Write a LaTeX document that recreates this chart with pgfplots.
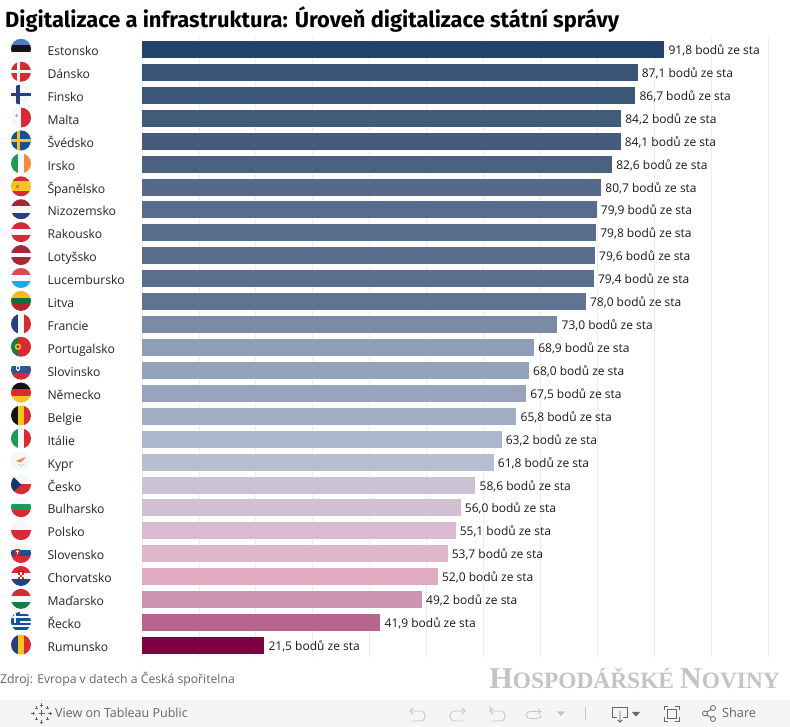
\documentclass[border=0pt]{standalone}
\usepackage{pgfplots}
\pgfplotsset{compat=1.18}
\usepackage{fontspec}
\setmainfont{Open Sans}
\newfontfamily\serif{Liberation Serif}
\newfontfamily\titlefont{Fira Sans}
\definecolor{c0}{HTML}{234268}
\definecolor{c1}{HTML}{3A5577}
\definecolor{c2}{HTML}{3B5677}
\definecolor{c3}{HTML}{435B7B}
\definecolor{c4}{HTML}{445B7B}
\definecolor{c5}{HTML}{4B6180}
\definecolor{c6}{HTML}{556A8A}
\definecolor{c7}{HTML}{586C8C}
\definecolor{c8}{HTML}{586D8C}
\definecolor{c9}{HTML}{596D8D}
\definecolor{c10}{HTML}{5A6E8E}
\definecolor{c11}{HTML}{607392}
\definecolor{c12}{HTML}{7B8BA7}
\definecolor{c13}{HTML}{8F9EB7}
\definecolor{c14}{HTML}{94A2BA}
\definecolor{c15}{HTML}{97A4BC}
\definecolor{c16}{HTML}{A0ADC3}
\definecolor{c17}{HTML}{AEB8CD}
\definecolor{c18}{HTML}{B6BFD2}
\definecolor{c19}{HTML}{C9C3D5}
\definecolor{c20}{HTML}{D3BFD2}
\definecolor{c21}{HTML}{D8BBD0}
\definecolor{c22}{HTML}{DDB7CB}
\definecolor{c23}{HTML}{E0ACC2}
\definecolor{c24}{HTML}{CF94B1}
\definecolor{c25}{HTML}{B6668C}
\definecolor{c26}{HTML}{7F0040}
\definecolor{fw}{HTML}{F5F7FA}
\definecolor{fr}{HTML}{D62B35}
\definecolor{fd}{HTML}{A5283A}
\definecolor{fb}{HTML}{26407F}
\definecolor{fn}{HTML}{14519B}
\definecolor{fe}{HTML}{4A80C0}
\definecolor{fy}{HTML}{F6C51B}
\definecolor{fg}{HTML}{1E9A57}
\definecolor{fo}{HTML}{F58A3C}
\definecolor{fc}{HTML}{1FA9E0}
\definecolor{fk}{HTML}{141414}
\definecolor{tb}{HTML}{F5F5F5}
\definecolor{tg}{HTML}{666666}
\definecolor{tl}{HTML}{C4C4C4}
\newcommand{\rowbar}[2]{\addplot[fill=c#1,draw=none] coordinates {(#2,#1)};}
\newcommand{\hs}[3]{\fill[#3] (-11,#1) rectangle (11,#2);}
\newcommand{\vs}[3]{\fill[#3] (#1,-11) rectangle (#2,11);}
\newcommand{\flag}[2]{\begin{scope}[x=1pt,y=-1pt,shift={(21pt,{(678.2-22.92*#1)*1pt})}]
\clip (0,0) circle (10);\fill[fw] (-11,-11) rectangle (11,11);#2\end{scope}}
\newcommand{\plusm}[3]{\draw (#1-#3,#2) -- (#1+#3,#2) (#1,#2-#3) -- (#1,#2+#3);}
\begin{document}
\begin{tikzpicture}[x=1pt,y=1pt]
\path[fill=white] (0,0) rectangle (790,727);
\begin{axis}[at={(142pt,70pt)},anchor=south west,scale only axis,width=626pt,height=619pt,
 xmin=0,xmax=110,ymin=-0.5,ymax=26.5,y dir=reverse,
 axis line style={draw=none},major tick length=0pt,
 xtick={0,10,...,110},xticklabels={},xmajorgrids,
 major grid style={draw=black!7,line width=0.7pt},
 ytick={0,1,...,26},
 yticklabels={Estonsko,Dánsko,Finsko,Malta,Švédsko,Irsko,Španělsko,Nizozemsko,Rakousko,Lotyšsko,Lucembursko,Litva,Francie,Portugalsko,Slovinsko,Německo,Belgie,Itálie,Kypr,Česko,Bulharsko,Polsko,Slovensko,Chorvatsko,Maďarsko,Řecko,Rumunsko},
 yticklabel style={anchor=base west,xshift=-98pt,yshift=-6pt,font=\fontsize{12.2}{12}\selectfont,text=black!85},
 xbar,bar width=17pt,bar shift=0pt,
 nodes near coords={\pgfmathprintnumber[fixed,fixed zerofill,precision=1,use comma,assume math mode=true]{\pgfplotspointmeta}\ bodů ze sta},
 point meta=x,
 every node near coord/.append style={anchor=base west,font=\fontsize{12}{12}\selectfont,text=black!90,inner sep=0pt,xshift=4pt,yshift=-5pt},
]
\rowbar{0}{91.8}\rowbar{1}{87.1}\rowbar{2}{86.7}\rowbar{3}{84.2}\rowbar{4}{84.1}\rowbar{5}{82.6}\rowbar{6}{80.7}\rowbar{7}{79.9}\rowbar{8}{79.8}
\rowbar{9}{79.6}\rowbar{10}{79.4}\rowbar{11}{78.0}\rowbar{12}{73.0}\rowbar{13}{68.9}\rowbar{14}{68.0}\rowbar{15}{67.5}\rowbar{16}{65.8}\rowbar{17}{63.2}
\rowbar{18}{61.8}\rowbar{19}{58.6}\rowbar{20}{56.0}\rowbar{21}{55.1}\rowbar{22}{53.7}\rowbar{23}{52.0}\rowbar{24}{49.2}\rowbar{25}{41.9}\rowbar{26}{21.5}
\end{axis}
% flags
\flag{0}{\hs{-11}{-3.3}{fe}\hs{-3.3}{3.3}{fk}}
\flag{1}{\hs{-11}{11}{fr}\hs{-1.6}{1.6}{fw}\vs{-4.5}{-1.5}{fw}}
\flag{2}{\hs{-1.8}{1.8}{fb}\vs{-5}{-1.4}{fb}}
\flag{3}{\vs{0}{11}{fr}\fill[black!35] (-5.5,-4) rectangle (-4.5,-1);\fill[black!35] (-6.5,-3) rectangle (-3.5,-2);}
\flag{4}{\hs{-11}{11}{fn}\hs{-1.6}{1.6}{fy}\vs{-4.5}{-1.5}{fy}}
\flag{5}{\vs{-11}{-3.3}{fg}\vs{3.3}{11}{fo}}
\flag{6}{\hs{-11}{-5}{fr}\hs{-5}{5}{fy}\hs{5}{11}{fr}\fill[c25!60!fo] (-5,-1.7) rectangle (-2,1.7);}
\flag{7}{\hs{-11}{-3.3}{fd}\hs{3.3}{11}{fb}}
\flag{8}{\hs{-11}{-3.3}{fr}\hs{3.3}{11}{fr}}
\flag{9}{\hs{-11}{-2}{fd}\hs{2}{11}{fd}}
\flag{10}{\hs{-11}{-3.3}{fr!85!white}\hs{3.3}{11}{fc}}
\flag{11}{\hs{-11}{-3.3}{fy!80!fo}\hs{-3.3}{3.3}{fg!70!black}\hs{3.3}{11}{fr!85!black}}
\flag{12}{\vs{-11}{-3.3}{fb}\vs{3.3}{11}{fr}}
\flag{13}{\vs{-11}{-3}{fg!80!black}\vs{-3}{11}{fr}\fill[fy] (-3,0) circle (3.2);\fill[fr!60!black] (-3,0) circle (1.7);}
\flag{14}{\hs{-3.3}{3.3}{fb!70!fe}\hs{3.3}{11}{fr}\fill[fw] (-5,-4.5) -- (-1,-4.5) -- (-1,0) -- (-3,1.5) -- (-5,0) -- cycle;\fill[fb] (-3,-1.7) circle (1.3);}
\flag{15}{\hs{-11}{-3.3}{fk}\hs{-3.3}{3.3}{fr}\hs{3.3}{11}{fy}}
\flag{16}{\vs{-11}{-3.3}{fk}\vs{-3.3}{3.3}{fy}\vs{3.3}{11}{fr}}
\flag{17}{\vs{-11}{-3.3}{fg}\vs{3.3}{11}{fr}}
\flag{18}{\fill[fo] (-5,-0.5) -- (-1,-2) -- (5,-4.5) -- (3,-2) -- (0,1) -- (-3,0.5) -- cycle;\draw[fg!40!fw,line width=0.7pt] (-3,3) .. controls (-1,5) and (1,5) .. (3,3);}
\flag{19}{\hs{0}{11}{fr}\fill[fn!70!black] (-11,-11) -- (0,0) -- (-11,11) -- cycle;}
\flag{20}{\hs{-3.3}{3.3}{fg}\hs{3.3}{11}{fr}}
\flag{21}{\hs{0}{11}{fr}}
\flag{22}{\hs{-3.3}{3.3}{fn}\hs{3.3}{11}{fr}\fill[fr] (-6.5,-4) -- (-1,-4) -- (-1,1) -- (-3.75,3) -- (-6.5,1) -- cycle;\fill[fw] (-4.2,-3) rectangle (-3.2,1);\fill[fw] (-5.5,-2) rectangle (-2,-1);}
\flag{23}{\hs{-11}{-3.3}{fr}\hs{3.3}{11}{fb}\fill[fw] (-3,-3.5) rectangle (3,3.5);\fill[fr] (-3,-3.5) rectangle (-1,-1.2);\fill[fr] (1,-3.5) rectangle (3,-1.2);\fill[fr] (-1,-1.2) rectangle (1,1.2);\fill[fr] (-3,1.2) rectangle (-1,3.5);\fill[fr] (1,1.2) rectangle (3,3.5);\fill[fb] (-3,-5) rectangle (3,-3.5);}
\flag{24}{\hs{-11}{-3.3}{fr}\hs{3.3}{11}{fg!80!black}}
\flag{25}{\hs{-7.8}{-5.6}{fn}\hs{-3.3}{-1.1}{fn}\hs{1.1}{3.3}{fn}\hs{5.6}{7.8}{fn}\fill[fn] (-11,-11) rectangle (-1,1);\fill[fw] (-7,-11) rectangle (-5,1);\fill[fw] (-11,-5.5) rectangle (-1,-3.5);}
\flag{26}{\vs{-11}{-3.3}{fb}\vs{-3.3}{3.3}{fy}\vs{3.3}{11}{fr}}
% title, source, watermark
\begin{scope}[x=1pt,y=-1pt,shift={(0pt,727pt)}]
\node[anchor=base west,inner sep=0pt,font=\titlefont\fontsize{21.9}{22}\selectfont\bfseries,text=black] at (5,27.5) {Digitalizace a infrastruktura: Úroveň digitalizace státní správy};
\node[anchor=base west,inner sep=0pt,font=\fontsize{12.2}{12}\selectfont,text=black!60] at (0,684) {Zdroj: Evropa v datech a Česká spořitelna};
\node[anchor=base east,inner sep=0pt,text=tl,font=\serif\bfseries] at (780,689) {{\fontsize{30.3}{30}\selectfont H}{\fontsize{23.4}{24}\selectfont OSPODÁŘSKÉ }{\fontsize{30.3}{30}\selectfont N}{\fontsize{23.4}{24}\selectfont OVINY}};
% toolbar
\fill[tb] (0,700) rectangle (790,727);
\node[anchor=base west,inner sep=0pt,font=\fontsize{12.5}{12}\selectfont,text=tg] at (55,718) {View on Tableau Public};
\node[anchor=base west,inner sep=0pt,font=\fontsize{12.7}{12}\selectfont,text=tg] at (722,718) {Share};
\begin{scope}[draw=tg,line width=0.7pt]
\plusm{41.5}{713.5}{3}\plusm{41.5}{705}{1.8}\plusm{41.5}{722}{1.8}\plusm{33}{713.5}{1.8}\plusm{50}{713.5}{1.8}
\plusm{36}{708}{1.5}\plusm{47}{708}{1.5}\plusm{36}{719}{1.5}\plusm{47}{719}{1.5}
\end{scope}
\begin{scope}[draw=tl,line width=0.8pt]
\draw (413,708) -- (410,711) -- (413,714);
\draw (410,711) -- (420,711) .. controls (427,711) and (427,721) .. (420,721) -- (412,721);
\draw (462,708) -- (465,711) -- (462,714);
\draw (465,711) -- (455,711) .. controls (448,711) and (448,721) .. (455,721) -- (463,721);
\draw (490,706) -- (490,712) (493,708) -- (490,711) -- (493,714);
\draw (490,711) -- (500,711) .. controls (507,711) and (507,721) .. (500,721) -- (492,721);
\draw (538,709) -- (541,711.5) -- (538,714);
\draw (541,711.5) -- (530,711.5) .. controls (525,711.5) and (525,718.5) .. (530,718.5) -- (537,718.5) .. controls (540,718.5) and (541,717) .. (541,715);
\draw (585,707) -- (585,720);
\end{scope}
\fill[tl] (557,711.5) -- (565,711.5) -- (561,716) -- cycle;
\begin{scope}[draw=tg,line width=0.8pt]
\draw (617,717) -- (612.5,717) -- (612.5,707) -- (627.5,707) -- (627.5,717) -- (623,717);
\draw (620,711) -- (620,722) (617.5,720) -- (620,722) -- (622.5,720);
\draw (668,706) -- (664,706) -- (664,710) (675,706) -- (679,706) -- (679,710) (664,717) -- (664,721) -- (668,721) (679,717) -- (679,721) -- (675,721);
\draw (667,709) rectangle (676,718);
\draw (705,713.5) circle (2.5) (713,708) circle (2.5) (713,719) circle (2.5);
\draw (707,712) -- (711,709.5) (707,715) -- (711,717.5);
\end{scope}
\fill[tg] (632,712) -- (640,712) -- (636,716.5) -- cycle;
\end{scope}
\end{tikzpicture}
\end{document}
